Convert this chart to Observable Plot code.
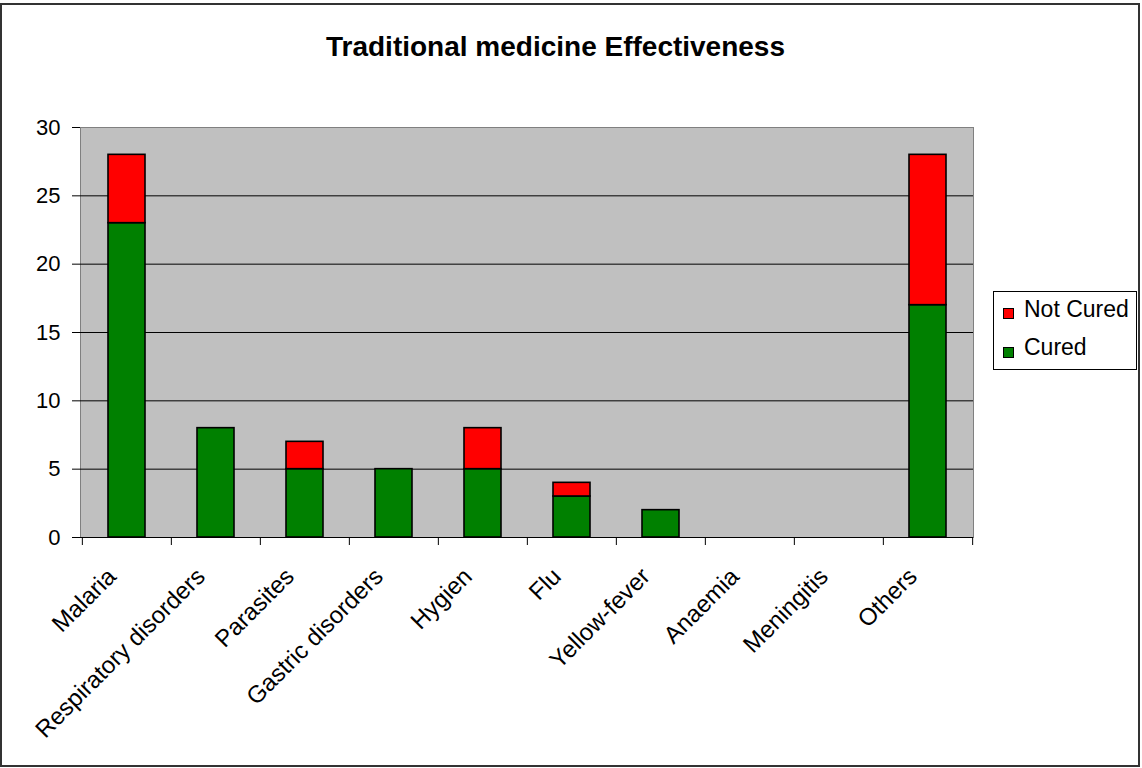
<!DOCTYPE html>
<html>
<head>
<meta charset="utf-8">
<script src="https://cdn.jsdelivr.net/npm/d3@7"></script>
<script src="https://cdn.jsdelivr.net/npm/@observablehq/plot@0.6"></script>
<style>
  html, body { margin: 0; padding: 0; background: #fff; }
  #wrap { position: relative; width: 1142px; height: 768px; overflow: hidden; font-family: Arial, "Liberation Sans", sans-serif; }
  #border { position: absolute; left: 0; top: 3px; width: 1140px; height: 764px; box-sizing: border-box; border: 2px solid #333; }
  #title { position: absolute; left: 0; top: 33px; width: 1111px; text-align: center; font-size: 28px; line-height: 28px; font-weight: bold; color: #000; }
  #chart { position: absolute; left: 0; top: 80px; }
  #legend { position: absolute; left: 993px; top: 291px; width: 144px; height: 79px; box-sizing: border-box; border: 1px solid #000; background: #fff; }
  .sw { position: absolute; width: 11px; height: 11px; box-sizing: border-box; border: 1px solid #000; }
  .lt { position: absolute; font-size: 23px; line-height: 23px; color: #000; white-space: nowrap; }
</style>
</head>
<body>
<div id="wrap">
  <div id="border"></div>
  <div id="title">Traditional medicine Effectiveness</div>
  <div id="chart"></div>
  <div id="legend"></div>
</div>
<script>
const categories = ["Malaria", "Respiratory disorders", "Parasites", "Gastric disorders", "Hygien", "Flu", "Yellow-fever", "Anaemia", "Meningitis", "Others"];
const cured    = [23, 8, 5, 5, 5, 3, 2, 0, 0, 17];
const notCured = [5, 0, 2, 0, 3, 1, 0, 0, 0, 11];
const seriesNames = ["Cured", "Not Cured"];
const seriesColors = ["#008000", "#ff0000"];
const yTicks = [0, 5, 10, 15, 20, 25, 30];
const legendOrder = ["Not Cured", "Cured"];

const rows = [];
categories.forEach((c, i) => {
  if (cured[i] > 0) rows.push({category: c, series: "Cured", value: cured[i]});
  if (notCured[i] > 0) rows.push({category: c, series: "Not Cured", value: notCured[i]});
});

const W = 1142, H = 688;
const mL = 80, mR = 169, mT = 47, mB = 231;
const pIn = 0.586, pOut = 0.293;
const step = (W - mL - mR) / (categories.length - pIn + 2 * pOut);

const plot = Plot.plot({
  width: W, height: H,
  marginLeft: mL, marginRight: mR, marginTop: mT, marginBottom: mB,
  style: {fontFamily: 'Arial, "Liberation Sans", sans-serif', fontSize: "22px", color: "#000", background: "transparent", overflow: "visible"},
  x: {domain: categories, paddingInner: pIn, paddingOuter: pOut, axis: null, label: null},
  y: {domain: [0, 30], axis: null, label: null},
  color: {domain: seriesNames, range: seriesColors},
  marks: [
    Plot.frame({fill: "#c0c0c0", stroke: "#808080"}),
    Plot.gridY({ticks: yTicks.slice(1, -1), stroke: "#000", strokeOpacity: 1, strokeWidth: 1}),
    Plot.rectY(rows, {x: "category", y: "value", fill: "series", stroke: "#000", strokeWidth: 1.6}),
    Plot.ruleY([0], {stroke: "#000", strokeWidth: 1}),
    Plot.axisY({ticks: yTicks, tickSize: 8, tickPadding: 12, line: true, stroke: "#000", fontSize: 22, label: null}),
    Plot.axisX({tickSize: 8, tickFormat: () => "", dx: -step / 2, label: null}),
    Plot.axisX({ticks: [categories[categories.length - 1]], tickSize: 8, tickFormat: () => "", dx: step / 2, label: null}),
    Plot.axisX({tickSize: 0, tickPadding: 35, tickRotate: -45, fontSize: 24, dx: -15, label: null})
  ]
});
document.getElementById("chart").appendChild(plot);

const legend = document.getElementById("legend");
legendOrder.forEach((name, i) => {
  const sw = document.createElement("div");
  sw.className = "sw";
  sw.style.left = "9px";
  sw.style.top = (16 + i * 39) + "px";
  sw.style.background = seriesColors[seriesNames.indexOf(name)];
  legend.appendChild(sw);
  const t = document.createElement("div");
  t.className = "lt";
  t.style.left = "30px";
  t.style.top = (6 + i * 38) + "px";
  t.textContent = name;
  legend.appendChild(t);
});
</script>
</body>
</html>
